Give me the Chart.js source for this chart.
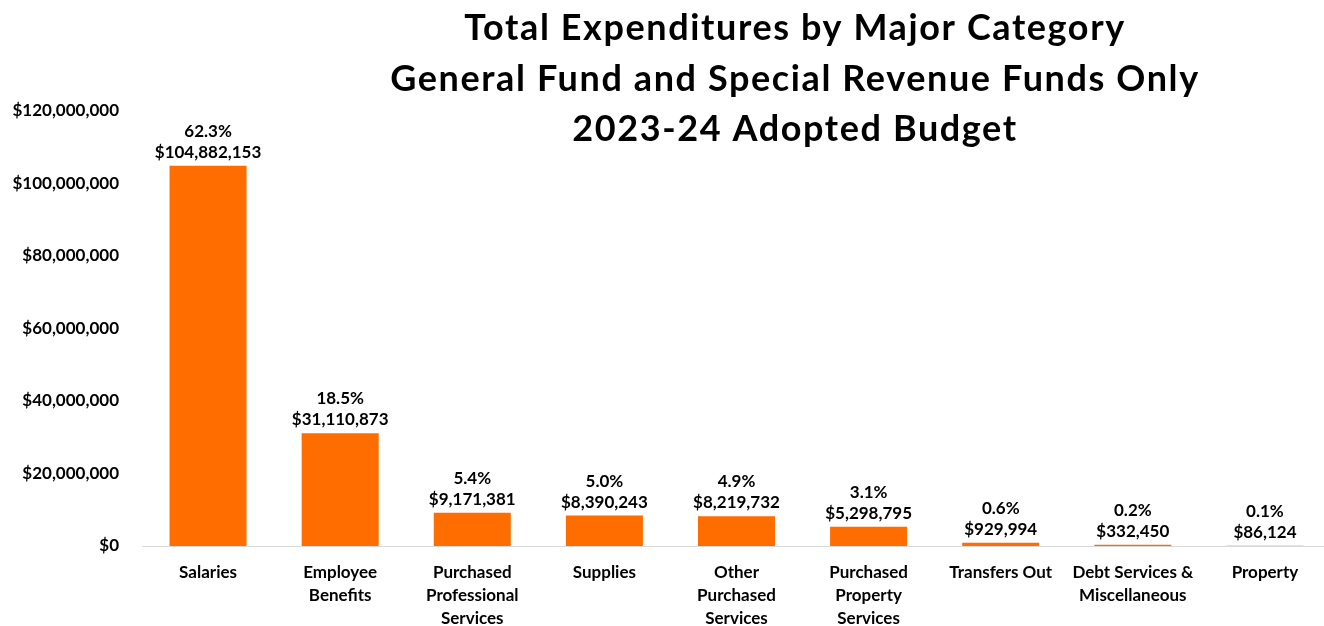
<!DOCTYPE html>
<html>
<head>
<meta charset="utf-8">
<script src="https://cdn.jsdelivr.net/npm/chart.js@4.4.1/dist/chart.umd.min.js"></script>
<style>
  html, body { margin: 0; padding: 0; background: #ffffff; overflow: hidden; }
  #wrap { width: 1324px; height: 626px; overflow: hidden; position: relative; }
  canvas { display: block; }
</style>
</head>
<body>
<div id="wrap"><canvas id="chart" width="1332" height="626"></canvas></div>
<script>
// Expenditure categories (multi-line axis labels)
const categories = [
  ['Salaries'],
  ['Employee', 'Benefits'],
  ['Purchased', 'Professional', 'Services'],
  ['Supplies'],
  ['Other', 'Purchased', 'Services'],
  ['Purchased', 'Property', 'Services'],
  ['Transfers Out'],
  ['Debt Services &', 'Miscellaneous'],
  ['Property']
];

// Adopted budget amounts per category
const amounts = [104882153, 31110873, 9171381, 8390243, 8219732, 5298795, 929994, 332450, 86124];

// Share of total budget, as printed above each bar
const shares = ['62.3%', '18.5%', '5.4%', '5.0%', '4.9%', '3.1%', '0.6%', '0.2%', '0.1%'];

// Chart title lines
const titleLines = [
  'Total Expenditures by Major Category',
  'General Fund and Special Revenue Funds Only',
  '2023-24 Adopted Budget'
];

const FONT = 'Lato, "Open Sans", sans-serif';
const BAR_COLOR = '#FF6D00';

function money(v) {
  return '$' + Math.round(v).toLocaleString('en-US');
}

// Draws the three-line title, centred over the right part of the figure
const titlePlugin = {
  id: 'titleLines',
  afterDraw(chart) {
    const ctx = chart.ctx;
    ctx.save();
    ctx.fillStyle = '#000000';
    ctx.font = 'bold 36px ' + FONT;
    ctx.letterSpacing = '1.6px';
    ctx.textAlign = 'center';
    ctx.textBaseline = 'alphabetic';
    const baselines = [40, 91, 141];
    titleLines.forEach((t, i) => ctx.fillText(t, 795, baselines[i]));
    ctx.restore();
  }
};

// Percent + amount labels above each bar
const valueLabels = {
  id: 'valueLabels',
  afterDatasetsDraw(chart) {
    const ctx = chart.ctx;
    const meta = chart.getDatasetMeta(0);
    ctx.save();
    ctx.fillStyle = '#000000';
    ctx.font = 'bold 17px ' + FONT;
    ctx.textAlign = 'center';
    ctx.textBaseline = 'alphabetic';
    meta.data.forEach((bar, i) => {
      const top = bar.y;
      ctx.fillText(money(amounts[i]), bar.x, top - 8);
      ctx.fillText(shares[i], bar.x, top - 29);
    });
    ctx.restore();
  }
};

new Chart(document.getElementById('chart'), {
  type: 'bar',
  data: {
    labels: categories,
    datasets: [{
      data: amounts,
      backgroundColor: BAR_COLOR,
      borderWidth: 0,
      categoryPercentage: 1.0,
      barPercentage: 0.583
    }]
  },
  options: {
    responsive: false,
    devicePixelRatio: 1,
    animation: false,
    layout: { padding: { top: 111, right: 1, left: 0, bottom: 0 } },
    plugins: {
      legend: { display: false },
      title: { display: false },
      tooltip: { enabled: false }
    },
    scales: {
      x: {
        grid: { display: false, drawTicks: false },
        border: { display: true, color: '#D9D9D9', width: 1 },
        ticks: {
          color: '#000000',
          font: { family: FONT, size: 17, weight: 'bold', lineHeight: 1.36 },
          padding: 15,
          maxRotation: 0,
          autoSkip: false
        },
        afterFit(scale) { scale.height = 80; }
      },
      y: {
        min: 0,
        max: 120000000,
        grid: { display: false, drawTicks: false },
        border: { display: false },
        ticks: {
          stepSize: 20000000,
          color: '#000000',
          font: { family: FONT, size: 17, weight: 'bold' },
          padding: 23,
          callback: (v) => money(v)
        },
        afterFit(scale) { scale.width = 142; }
      }
    }
  },
  plugins: [titlePlugin, valueLabels]
});
</script>
</body>
</html>
